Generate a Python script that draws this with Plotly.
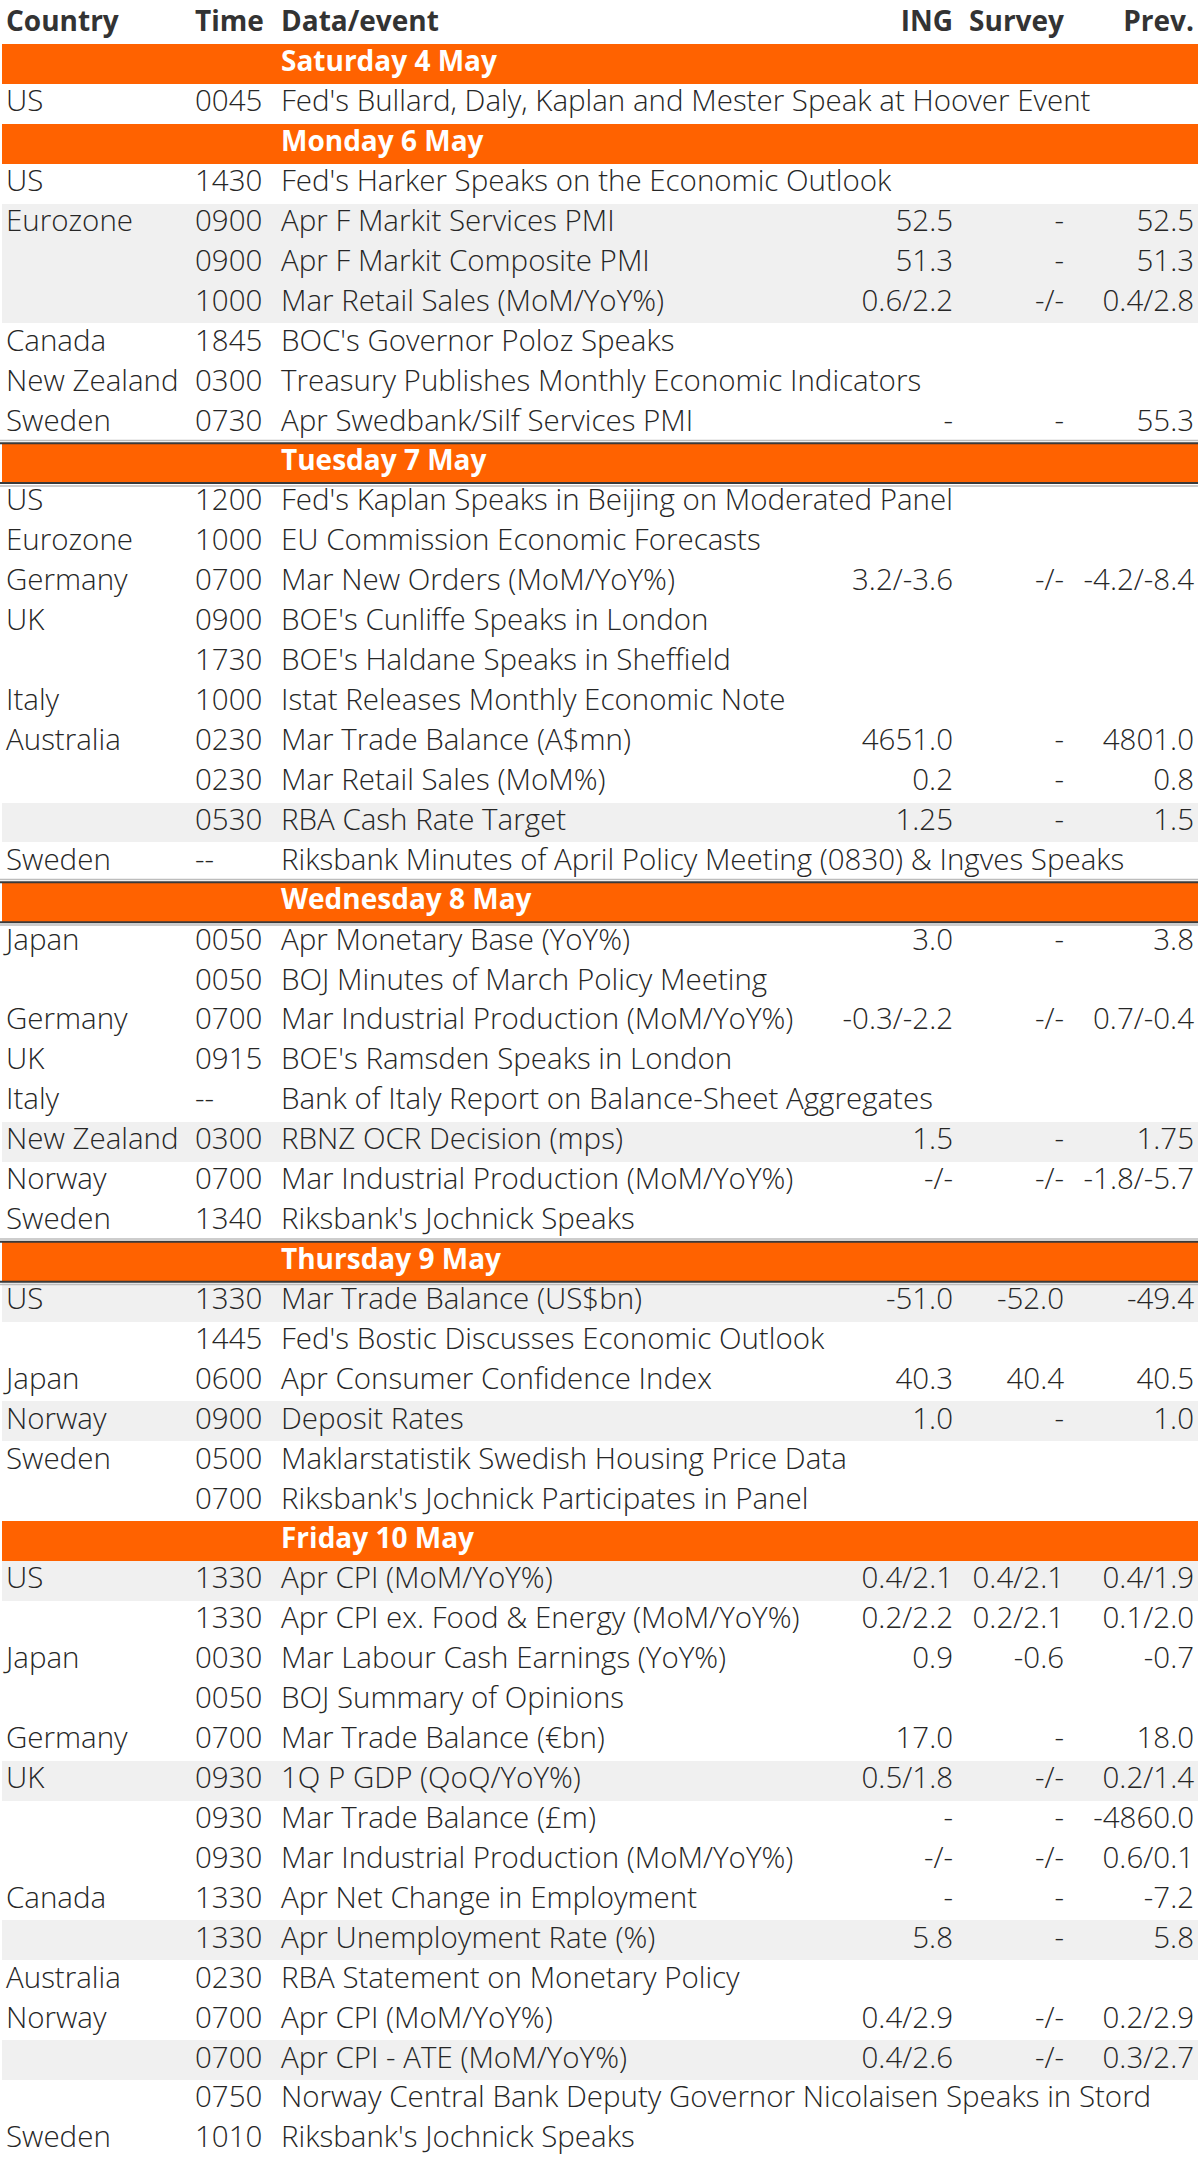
import plotly.graph_objects as go

# ---------------- data ----------------
headers = ["Country", "Time", "Data/event", "ING", "Survey", "Prev."]

# None in country marks a day-separator row (event holds the day label)
country = [
    None, "US",
    None, "US", "Eurozone", "", "", "Canada", "New Zealand", "Sweden",
    None, "US", "Eurozone", "Germany", "UK", "", "Italy", "Australia", "", "", "Sweden",
    None, "Japan", "", "Germany", "UK", "Italy", "New Zealand", "Norway", "Sweden",
    None, "US", "", "Japan", "Norway", "Sweden", "",
    None, "US", "", "Japan", "", "Germany", "UK", "", "", "Canada", "", "Australia", "Norway", "", "", "Sweden",
]
time = [
    "", "0045",
    "", "1430", "0900", "0900", "1000", "1845", "0300", "0730",
    "", "1200", "1000", "0700", "0900", "1730", "1000", "0230", "0230", "0530", "--",
    "", "0050", "0050", "0700", "0915", "--", "0300", "0700", "1340",
    "", "1330", "1445", "0600", "0900", "0500", "0700",
    "", "1330", "1330", "0030", "0050", "0700", "0930", "0930", "0930", "1330", "1330", "0230", "0700", "0700", "0750", "1010",
]
event = [
    "Saturday 4 May",
    "Fed's Bullard, Daly, Kaplan and Mester Speak at Hoover Event",
    "Monday 6 May",
    "Fed's Harker Speaks on the Economic Outlook",
    "Apr F Markit Services PMI",
    "Apr F Markit Composite PMI",
    "Mar Retail Sales (MoM/YoY%)",
    "BOC's Governor Poloz Speaks",
    "Treasury Publishes Monthly Economic Indicators",
    "Apr Swedbank/Silf Services PMI",
    "Tuesday 7 May",
    "Fed's Kaplan Speaks in Beijing on Moderated Panel",
    "EU Commission Economic Forecasts",
    "Mar New Orders (MoM/YoY%)",
    "BOE's Cunliffe Speaks in London",
    "BOE's Haldane Speaks in Sheffield",
    "Istat Releases Monthly Economic Note",
    "Mar Trade Balance (A$mn)",
    "Mar Retail Sales (MoM%)",
    "RBA Cash Rate Target",
    "Riksbank Minutes of April Policy Meeting (0830) & Ingves Speaks",
    "Wednesday 8 May",
    "Apr Monetary Base (YoY%)",
    "BOJ Minutes of March Policy Meeting",
    "Mar Industrial Production (MoM/YoY%)",
    "BOE's Ramsden Speaks in London",
    "Bank of Italy Report on Balance-Sheet Aggregates",
    "RBNZ OCR Decision (mps)",
    "Mar Industrial Production (MoM/YoY%)",
    "Riksbank's Jochnick Speaks",
    "Thursday 9 May",
    "Mar Trade Balance (US$bn)",
    "Fed's Bostic Discusses Economic Outlook",
    "Apr Consumer Confidence Index",
    "Deposit Rates",
    "Maklarstatistik Swedish Housing Price Data",
    "Riksbank's Jochnick Participates in Panel",
    "Friday 10 May",
    "Apr CPI (MoM/YoY%)",
    "Apr CPI ex. Food & Energy (MoM/YoY%)",
    "Mar Labour Cash Earnings (YoY%)",
    "BOJ Summary of Opinions",
    "Mar Trade Balance (€bn)",
    "1Q P GDP (QoQ/YoY%)",
    "Mar Trade Balance (£m)",
    "Mar Industrial Production (MoM/YoY%)",
    "Apr Net Change in Employment",
    "Apr Unemployment Rate (%)",
    "RBA Statement on Monetary Policy",
    "Apr CPI (MoM/YoY%)",
    "Apr CPI - ATE (MoM/YoY%)",
    "Norway Central Bank Deputy Governor Nicolaisen Speaks in Stord",
    "Riksbank's Jochnick Speaks",
]
ing = [
    "", "",
    "", "", "52.5", "51.3", "0.6/2.2", "", "", "-",
    "", "", "", "3.2/-3.6", "", "", "", "4651.0", "0.2", "1.25", "",
    "", "3.0", "", "-0.3/-2.2", "", "", "1.5", "-/-", "",
    "", "-51.0", "", "40.3", "1.0", "", "",
    "", "0.4/2.1", "0.2/2.2", "0.9", "", "17.0", "0.5/1.8", "-", "-/-", "-", "5.8", "", "0.4/2.9", "0.4/2.6", "", "",
]
survey = [
    "", "",
    "", "", "-", "-", "-/-", "", "", "-",
    "", "", "", "-/-", "", "", "", "-", "-", "-", "",
    "", "-", "", "-/-", "", "", "-", "-/-", "",
    "", "-52.0", "", "40.4", "-", "", "",
    "", "0.4/2.1", "0.2/2.1", "-0.6", "", "-", "-/-", "-", "-/-", "-", "-", "", "-/-", "-/-", "", "",
]
prev = [
    "", "",
    "", "", "52.5", "51.3", "0.4/2.8", "", "", "55.3",
    "", "", "", "-4.2/-8.4", "", "", "", "4801.0", "0.8", "1.5", "",
    "", "3.8", "", "0.7/-0.4", "", "", "1.75", "-1.8/-5.7", "",
    "", "-49.4", "", "40.5", "1.0", "", "",
    "", "0.4/1.9", "0.1/2.0", "-0.7", "", "18.0", "0.2/1.4", "-4860.0", "0.6/0.1", "-7.2", "5.8", "", "0.2/2.9", "0.3/2.7", "", "",
]
# rows (0-based within the lists above) that are highlighted in the source
highlight_rows = [4, 5, 6, 19, 27, 31, 34, 38, 43, 47, 50]
# day bars framed with rules in the source
framed_days = ["Tuesday 7 May", "Wednesday 8 May", "Thursday 9 May"]

# ---------------- styling ----------------
ORANGE = "#FF6200"
GREY = "#F0F0F0"
TXT = "#262626"
HEAD = "#333333"
FONT = "Open Sans"
FS = 29.5

n = len(event)
ys = [i + 1 for i in range(n)]  # row 0 is the header
day_idx = [i for i in range(n) if country[i] is None]
data_idx = [i for i in range(n) if country[i] is not None]

fig = go.Figure()

# row backgrounds as horizontal bars
bg_y, bg_c = [], []
for i in range(n):
    if country[i] is None:
        bg_y.append(ys[i]); bg_c.append(ORANGE)
    elif i in highlight_rows:
        bg_y.append(ys[i]); bg_c.append(GREY)
fig.add_trace(go.Bar(
    orientation="h", y=bg_y, x=[1196] * len(bg_y), base=[2] * len(bg_y),
    width=1, marker=dict(color=bg_c, line=dict(width=0)), hoverinfo="skip",
))

def text_trace(xpos, yvals, texts, pos, color=TXT, weight=300, size=FS):
    fig.add_trace(go.Scatter(
        x=[xpos] * len(yvals), y=yvals, text=texts, mode="text",
        textposition=pos, hoverinfo="skip", cliponaxis=False,
        textfont=dict(family=FONT, size=size, color=color, weight=weight),
    ))

# header
col_x = [6, 195, 281, 953, 1064, 1194]
col_pos = ["middle right", "middle right", "middle right", "middle left", "middle left", "middle left"]
for h, xx, pp in zip(headers, col_x, col_pos):
    text_trace(xx, [0], [h], pp, color=HEAD, weight="bold", size=28)

# day labels
text_trace(col_x[2], [ys[i] for i in day_idx], [event[i] for i in day_idx],
           "middle right", color="white", weight="bold", size=28)

# body columns
dy = [ys[i] for i in data_idx]
for vals, xx, pp in zip([country, time, event, ing, survey, prev], col_x, col_pos):
    text_trace(xx, dy, [vals[i] for i in data_idx], pp)

# rules around framed day bars
shapes = []
for i in day_idx:
    if event[i] in framed_days:
        for edge, off in [(-0.5, -0.07), (0.5, 0.07)]:
            shapes.append(dict(type="line", xref="x", yref="y", x0=0, x1=1198,
                               y0=ys[i] + edge, y1=ys[i] + edge,
                               line=dict(color="#3a3a3a", width=2)))
            shapes.append(dict(type="line", xref="x", yref="y", x0=0, x1=1198,
                               y0=ys[i] + edge + off, y1=ys[i] + edge + off,
                               line=dict(color="#bdbdbd", width=1.5)))

fig.update_layout(
    width=1200, height=2160,
    margin=dict(l=0, r=0, t=0, b=0),
    paper_bgcolor="white", plot_bgcolor="white",
    showlegend=False, bargap=0,
    shapes=shapes,
    xaxis=dict(range=[0, 1200], visible=False, fixedrange=True),
    yaxis=dict(range=[n + 0.5, -0.6], visible=False, fixedrange=True),
)

fig.write_html(
    "out.html",
    config={"displayModeBar": False},
    post_script="document.body.style.margin='0';document.body.style.overflow='hidden';",
)
